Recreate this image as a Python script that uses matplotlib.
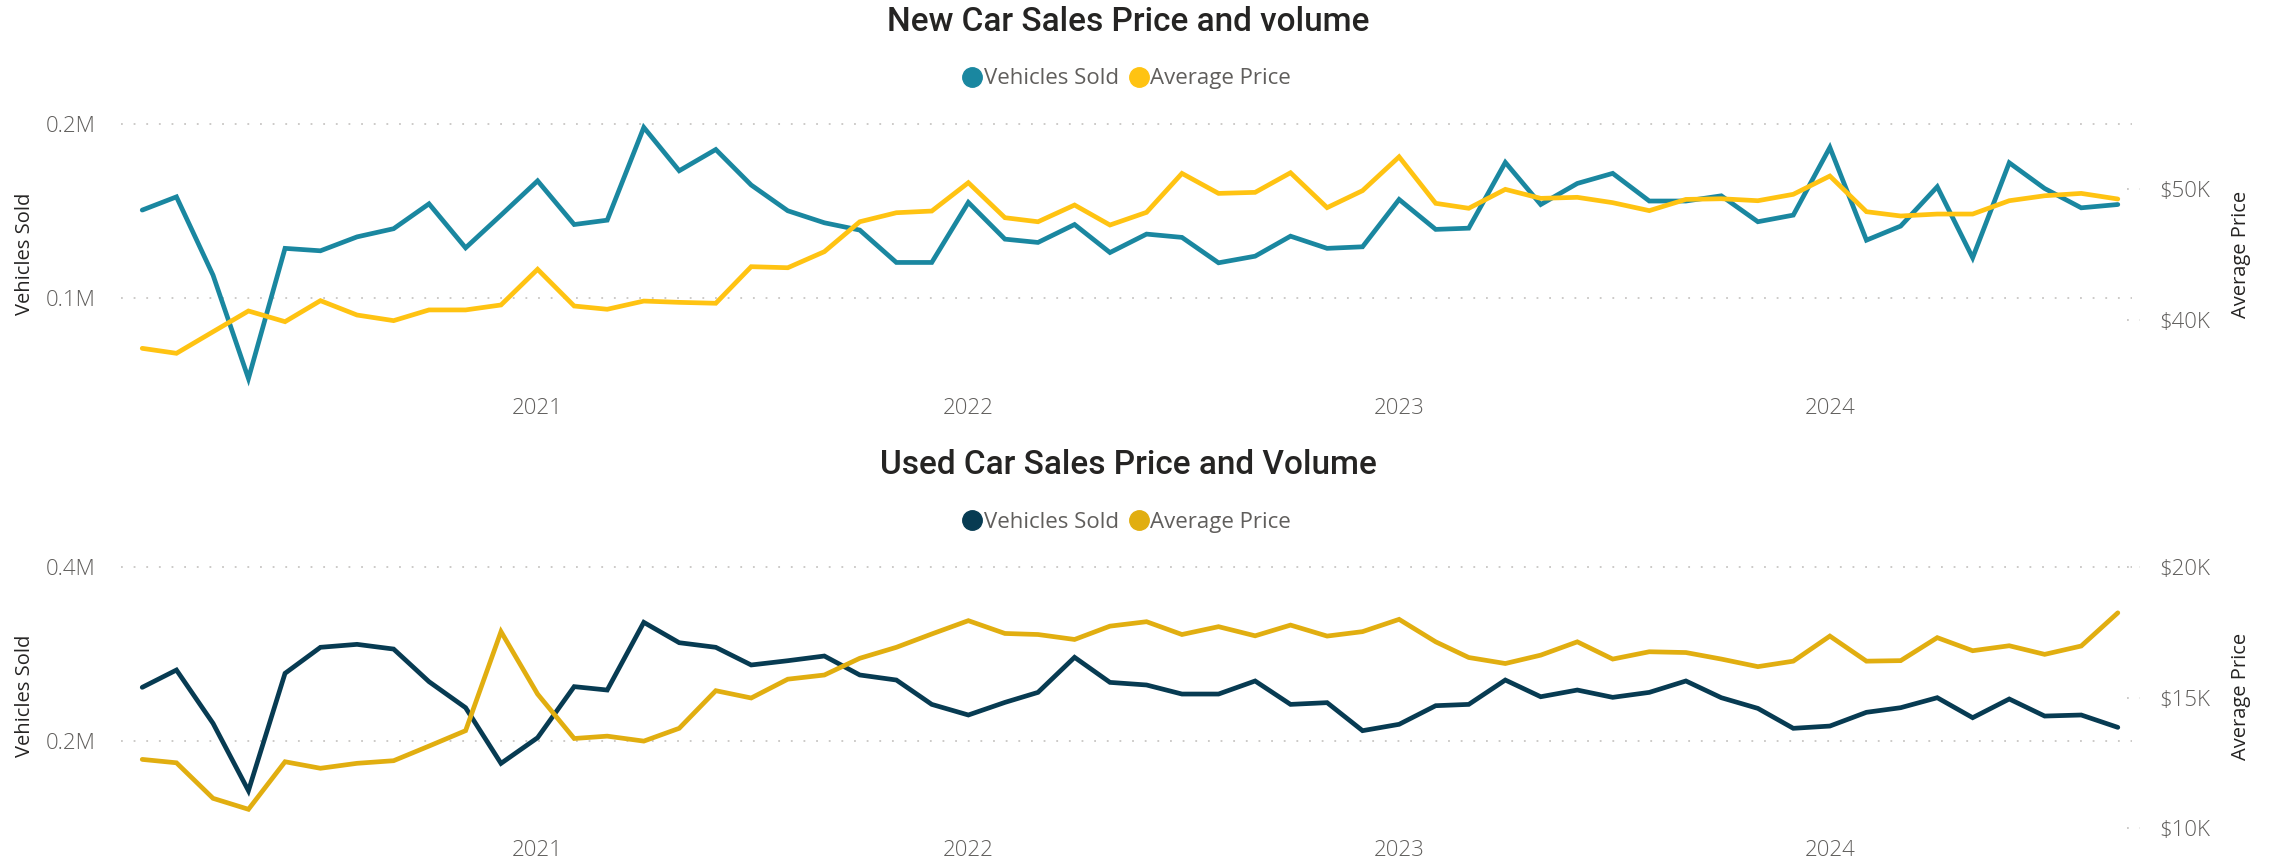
import pandas as pd
import matplotlib.pyplot as plt
import matplotlib.dates as mdates
from matplotlib.lines import Line2D
from matplotlib.ticker import FuncFormatter

# monthly data, Feb 2020 - Sep 2024
months = pd.date_range("2020-02-01", periods=56, freq="MS")

new_sold = [0.1504, 0.158, 0.113, 0.0536, 0.1284, 0.127, 0.135, 0.1397, 0.154, 0.1287,
            0.1475, 0.1672, 0.1421, 0.1446, 0.1979, 0.173, 0.1852, 0.1648, 0.150, 0.1431,
            0.1389, 0.1203, 0.1203, 0.1548, 0.1337, 0.1318, 0.1421, 0.126, 0.1366, 0.1347,
            0.1201, 0.1239, 0.1354, 0.1284, 0.1293, 0.1565, 0.1393, 0.140, 0.1778, 0.1536,
            0.1657, 0.1715, 0.1556, 0.1556, 0.1586, 0.1437, 0.1475, 0.1864, 0.1331, 0.1412,
            0.1638, 0.123, 0.1776, 0.1628, 0.1517, 0.1536]
new_price = [37.83, 37.45, 39.1, 40.69, 39.87, 41.48, 40.38, 39.95, 40.77, 40.77,
             41.15, 43.88, 41.07, 40.82, 41.45, 41.35, 41.28, 44.08, 44.0, 45.23,
             47.52, 48.21, 48.34, 50.51, 47.83, 47.52, 48.8, 47.27, 48.24, 51.22,
             49.69, 49.77, 51.27, 48.6, 49.9, 52.49, 48.93, 48.55, 50.0, 49.31,
             49.39, 48.98, 48.37, 49.23, 49.28, 49.13, 49.62, 51.02, 48.29, 47.96,
             48.11, 48.11, 49.13, 49.51, 49.69, 49.26]

used_sold = [0.2617, 0.2816, 0.2203, 0.1429, 0.2778, 0.3077, 0.3111, 0.3057, 0.2682, 0.2383,
             0.1743, 0.2038, 0.2625, 0.2586, 0.3364, 0.313, 0.3077, 0.2874, 0.2923, 0.2977,
             0.2759, 0.2701, 0.2421, 0.2299, 0.2444, 0.2559, 0.2962, 0.2674, 0.2644, 0.254,
             0.254, 0.269, 0.2421, 0.2441, 0.2119, 0.2192, 0.2406, 0.2421, 0.2701, 0.2509,
             0.2586, 0.2502, 0.2559, 0.269, 0.2498, 0.2375, 0.2146, 0.2172, 0.233, 0.2383,
             0.2498, 0.2268, 0.2483, 0.2287, 0.2299, 0.2157]
used_price = [12.64, 12.51, 11.15, 10.73, 12.55, 12.3, 12.49, 12.59, 13.15, 13.74,
              17.53, 15.14, 13.44, 13.53, 13.34, 13.83, 15.27, 14.99, 15.71, 15.87,
              16.51, 16.93, 17.44, 17.95, 17.46, 17.42, 17.23, 17.74, 17.91, 17.42,
              17.72, 17.37, 17.78, 17.36, 17.53, 18.0, 17.14, 16.54, 16.31, 16.63,
              17.14, 16.48, 16.76, 16.73, 16.48, 16.19, 16.4, 17.36, 16.4, 16.42,
              17.3, 16.8, 16.99, 16.66, 16.98, 18.25]

left_ticks_new = [0.1, 0.2]
right_ticks_new = [40, 50]
left_ticks_used = [0.2, 0.4]
right_ticks_used = [10, 15, 20]

TEXT = "#252423"
GREY = "#605E5C"
GRID = "#C8C6C4"
FONT = "Open Sans"

fig = plt.figure(figsize=(22.7, 8.64), dpi=100)


def panel(rect, sold, price, c_sold, c_price, ylim_l, ylim_r, lticks, rticks, title, title_y, leg_y):
    ax = fig.add_axes(rect)
    ax2 = ax.twinx()
    ax.plot(months, sold, color=c_sold, lw=3.4, solid_capstyle="round", solid_joinstyle="miter")
    ax2.plot(months, price, color=c_price, lw=3.4, solid_capstyle="round", solid_joinstyle="miter")

    ax.set_xlim(pd.Timestamp("2020-01-14"), pd.Timestamp("2024-09-13"))
    ax.set_ylim(*ylim_l)
    ax2.set_ylim(*ylim_r)

    ax.xaxis.set_major_locator(mdates.YearLocator())
    ax.xaxis.set_major_formatter(mdates.DateFormatter("%Y"))
    ax.set_yticks(lticks)
    ax.yaxis.set_major_formatter(FuncFormatter(lambda v, p: f"{v:.1f}M"))
    ax2.set_yticks(rticks)
    ax2.yaxis.set_major_formatter(FuncFormatter(lambda v, p: f"${v:.0f}K"))

    ax.grid(axis="y", color=GRID, lw=1.3, linestyle=(0, (1, 6)))
    for t in rticks:
        ax2.axhline(t, xmin=0.9975, xmax=1.004, color=GRID, lw=1.3, linestyle=(0, (1, 6)), clip_on=False)

    for a in (ax, ax2):
        for s in a.spines.values():
            s.set_visible(False)
        a.tick_params(length=0, labelsize=16, labelcolor=GREY)
        for lab in a.get_xticklabels() + a.get_yticklabels():
            lab.set_family(FONT)
            lab.set_weight("light")
    ax.tick_params(axis="y", pad=18)
    ax2.tick_params(axis="y", pad=20)
    ax.tick_params(axis="x", pad=6)

    ax.set_ylabel("Vehicles Sold", fontsize=14.5, color=TEXT, family=FONT)
    ax.yaxis.set_label_coords(-0.043, 0.5)
    ax2.set_ylabel("Average Price", fontsize=14.5, color=TEXT, family=FONT)
    ax2.yaxis.set_label_coords(1.049, 0.5)

    fig.text(0.497, title_y, title, ha="center", va="center", fontsize=24,
             color=TEXT, family="Roboto", weight="medium")
    handles = [Line2D([], [], marker="o", ls="", color=c_sold, markersize=14),
               Line2D([], [], marker="o", ls="", color=c_price, markersize=14)]
    leg = fig.legend(handles, ["Vehicles Sold", "Average Price"], loc="center",
                     bbox_to_anchor=(0.496, leg_y), ncol=2, frameon=False,
                     handletextpad=0.0, columnspacing=0.4, handlelength=1.0,
                     prop={"family": FONT, "size": 16})
    for t in leg.get_texts():
        t.set_color(GREY)


panel([0.0533, 0.5486, 0.8859, 0.3148], new_sold, new_price, "#1A87A0", "#FFC312",
      (0.047, 0.2033), (34.64, 55.46), left_ticks_new, right_ticks_new,
      "New Car Sales Price and volume", 0.9745, 0.9086)
panel([0.0533, 0.037, 0.8859, 0.3148], used_sold, used_price, "#073B52", "#E1AE10",
      (0.0954, 0.408), (9.86, 20.27), left_ticks_used, right_ticks_used,
      "Used Car Sales Price and Volume", 0.4618, 0.3958)

fig.savefig("out.png", dpi=100)
